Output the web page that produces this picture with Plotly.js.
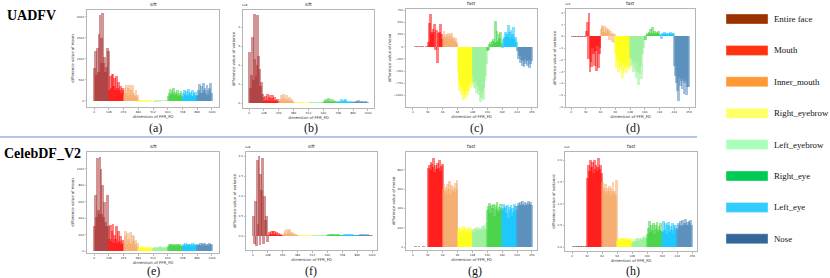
<!DOCTYPE html>
<html><head><meta charset="utf-8">
<script src="https://cdn.plot.ly/plotly-3.0.1.min.js"></script>
<style>html,body{margin:0;padding:0;background:#fff;}#chart{width:830px;height:278px;}</style>
</head><body><div id="chart"></div>
<script>
// ---------- data ----------
const regions = ['Entire face','Mouth','Inner_mouth','Right_eyebrow','Left_eyebrow','Right_eye','Left_eye','Nose'];
const siftTicks = [0,128,256,384,512,640,768,896,1024];
const fastTicks = [0,32,64,96,128,160,192,224,256];
const datasets = ['UADFV','CelebDF_V2'];
const featureNames = ['sift','sift','fast','fast','sift','sift','fast','fast'];
const panelLetters = ['(a)','(b)','(c)','(d)','(e)','(f)','(g)','(h)'];
const meanTitle = 'difference value of mean';
const varTitle = 'difference value of variance';
const xTitle = 'dimension of FFR_FD';

// 16 values per region (8 regions)
const uadfvSiftMean = [
 780,1200,620,1250,700,1600,2050,900,1500,2100,900,1050,700,800,1250,1200,
 250,600,300,650,650,350,550,250,600,300,450,250,350,200,300,250,
 150,300,200,370,120,300,380,150,250,380,150,200,120,250,100,150,
 -20,20,-30,15,-35,10,-25,20,-30,10,-20,15,-10,20,-25,10,
 10,-15,20,-20,15,-10,25,-15,10,20,-10,15,5,20,10,15,
 120,200,280,150,250,180,300,140,220,160,260,120,200,150,240,130,
 100,180,260,150,230,120,280,160,210,130,250,110,190,140,220,120,
 150,250,400,200,350,180,420,250,300,200,380,150,250,300,420,200
];
const uadfvSiftVar = [ // x1e8
 2.7,0.8,1.5,3.5,1.2,4.7,2.3,1.4,2.0,4.65,2.5,1.8,0.9,1.1,0.5,0.3,
 0.1,0.35,0.15,0.5,0.1,0.3,0.45,0.1,0.25,0.4,0.1,0.3,0.15,0.1,0.2,0.1,
 0.1,0.2,0.45,0.1,0.3,0.5,0.2,0.1,0.45,0.2,0.1,0.3,0.1,0.2,0.1,0.05,
 0.02,0.03,0.02,0.04,0.02,0.03,0.01,0.03,0.02,0.04,0.02,0.03,0.02,0.02,0.03,0.02,
 0.02,0.03,0.04,0.02,0.03,0.05,0.02,0.03,0.04,0.02,0.03,0.02,0.04,0.03,0.02,0.03,
 0.05,0.1,0.2,0.08,0.15,0.25,0.1,0.06,0.2,0.12,0.08,0.15,0.1,0.06,0.12,0.05,
 0.05,0.12,0.08,0.2,0.1,0.06,0.15,0.22,0.08,0.1,0.05,0.12,0.08,0.05,0.1,0.06,
 0.04,0.08,0.12,0.06,0.1,0.15,0.05,0.08,0.12,0.06,0.1,0.08,0.05,0.1,0.06,0.04
];
const uadfvFastMean = [
 2,-3,4,-2,3,-4,2,-3,3,-2,4,-3,2,-2,3,-3,
 100,480,670,300,260,360,300,470,-70,340,-330,280,300,470,250,150,
 220,318,200,250,180,230,270,160,240,277,150,200,120,180,90,60,
 -500,-750,-900,-800,-1000,-850,-1090,-950,-1050,-800,-1000,-900,-750,-850,-700,-800,
 -600,-750,-850,-700,-950,-800,-1000,-900,-1130,-1050,-950,-1100,-850,-700,-600,-350,
 -100,-60,60,100,40,120,150,80,530,100,330,120,250,180,300,80,
 -30,150,200,300,250,200,450,300,150,350,200,250,400,150,200,100,
 -100,-250,-200,-330,-280,-400,-300,-420,-250,-350,-300,-400,-280,-430,-350,-300
];
const uadfvFastVar = [ // x1e6
 0.01,-0.01,0.02,-0.01,0.01,-0.02,0.01,-0.01,0.02,-0.01,0.01,-0.01,0.02,-0.01,0.01,-0.02,
 0.5,1.2,-1.9,2.0,-3.0,-2.2,-2.6,-1.0,-1.5,-2.5,-1.2,-2.9,-0.8,-2.7,-1.5,-1.0,
 0.6,1.0,0.8,0.4,0.9,0.3,0.7,0.5,0.6,-0.3,0.5,0.2,-0.5,0.3,-0.6,0.2,
 -1.5,-2.7,-2.0,-3.0,-2.2,-2.8,-2.5,-3.5,-2.3,-3.0,-2.7,-2.2,-3.1,-2.4,-2.6,-2.8,
 -1.8,-2.5,-2.0,-3.0,-2.3,-2.8,-3.5,-2.2,-3.0,-4.1,-3.2,-2.5,-3.6,-1.5,-1.0,-0.3,
 -0.3,0.1,0.3,0.2,0.4,0.3,0.6,0.2,0.8,0.3,0.5,0.2,0.4,0.3,0.5,0.2,
 0.1,0.2,-0.2,0.3,0.2,0.4,0.2,0.3,0.1,0.3,0.2,0.4,0.2,0.3,0.2,0.3,
 -2.5,-3.4,-4.0,-4.6,-5.5,-3.5,-4.2,-3.8,-4.5,-3.6,-4.9,-4.0,-3.8,-5.0,-4.3,-4.3
];
const celebSiftMean = [
 300,680,420,1130,500,450,1140,1000,450,800,420,600,350,300,680,300,
 150,320,120,250,330,100,200,150,300,100,250,120,180,90,140,100,
 100,180,240,80,220,150,100,230,90,200,120,180,80,140,60,100,
 30,50,40,60,35,50,45,30,55,40,35,50,30,45,40,35,
 35,45,30,55,40,50,35,45,60,40,50,35,45,55,40,50,
 60,80,70,90,60,85,70,75,90,60,80,70,85,65,75,60,
 65,85,70,95,60,80,90,70,85,65,95,70,80,60,85,70,
 70,90,75,100,65,95,80,70,100,75,90,65,85,95,70,80
];
const celebSiftVar = [ // x1e8
 0.5,-0.2,0.87,-0.25,1.9,0.3,2.0,-0.22,1.56,1.15,1.95,-0.2,1.0,0.4,0.5,-0.15,
 0.02,0.1,0.05,0.13,0.03,0.12,0.06,0.13,0.04,0.1,0.03,0.08,0.02,0.06,0.03,0.02,
 0.03,0.08,0.15,0.05,0.17,0.06,0.12,0.17,0.04,0.1,0.05,0.08,0.02,0.05,0.03,0.02,
 0.01,0.02,0.01,0.015,0.01,0.02,0.01,0.015,0.01,0.02,0.01,0.015,0.01,0.02,0.01,0.01,
 0.01,0.015,0.02,0.01,0.015,0.01,0.02,0.015,0.01,0.02,0.015,0.01,0.02,0.01,0.015,0.01,
 0.02,0.04,0.03,0.05,0.02,0.04,0.06,0.03,0.04,0.02,0.05,0.03,0.04,0.02,0.03,0.02,
 0.02,0.03,0.05,0.02,0.04,0.03,0.05,0.02,0.04,0.03,0.02,0.04,0.03,0.02,0.03,0.02,
 0.02,0.03,0.02,0.04,0.03,0.05,0.02,0.03,0.04,0.02,0.03,0.04,0.02,0.03,0.02,0.02
];
const celebFastMean = [
 5,4,6,5,4,5,6,4,5,5,4,6,5,4,5,5,
 820,850,800,880,860,830,920,780,850,810,870,820,900,790,840,860,
 600,650,580,620,560,650,600,680,550,640,590,620,570,660,600,690,
 180,200,160,210,150,190,220,170,200,160,190,210,150,180,200,160,
 170,190,160,200,180,210,170,190,200,180,220,190,230,200,250,180,
 380,420,460,350,430,400,450,320,440,390,470,360,410,380,450,400,
 380,450,400,420,350,440,300,410,380,430,320,400,360,450,420,380,
 420,460,440,470,430,480,450,420,470,440,460,430,480,450,470,440
];
const celebFastVar = [ // x1e6
 0.01,0.02,0.01,0.02,0.01,0.02,0.01,0.02,0.01,0.02,0.01,0.02,0.01,0.02,0.01,0.02,
 1.6,1.9,1.75,2.0,1.85,1.95,1.7,2.0,1.8,1.9,1.75,1.85,2.05,1.8,1.9,1.7,
 1.5,1.35,1.3,1.45,1.25,1.35,1.3,1.4,1.2,1.35,1.3,1.5,1.25,1.3,1.2,1.55,
 0.15,0.2,0.17,0.22,0.14,0.2,0.18,0.22,0.16,0.2,0.15,0.21,0.17,0.2,0.16,0.19,
 0.1,0.15,0.12,0.18,0.14,0.2,0.15,0.22,0.17,0.2,0.18,0.24,0.2,0.25,0.22,0.2,
 0.3,0.45,0.6,0.35,0.5,0.4,0.55,0.3,0.5,0.42,0.58,0.35,0.48,0.4,0.55,0.38,
 0.35,0.6,0.4,0.55,0.3,0.5,0.58,0.35,0.48,0.4,0.55,0.33,0.5,0.45,0.52,0.4,
 0.45,0.55,0.5,0.6,0.48,0.62,0.5,0.55,0.65,0.5,0.58,0.52,0.6,0.55,0.62,0.5
];

// ---------- styles / layout ----------
const barColors = ['#a52a2a','#ff0000','#f4a460','#ffff00','#90ee90','#32cd32','#00bfff','#4682b4'];
const legendColors = ['#9a3300','#ff3311','#ff9933','#ffff66','#aaffbb','#00cc55','#33ccff','#336699'];
const W = 830, H = 278;
const fx = p => p / W, fy = p => 1 - p / H;

const panels = [
 {data: uadfvSiftMean, dims:1024, ticks:siftTicks, yTitle:meanTitle, box:[87,10,219,107], xr:[-61,1085], yr:[-143,2166], yt:[0,500,1000,1500,2000], fmt:'d', exp:'', lx:155, ly:128},
 {data: uadfvSiftVar, dims:1024, ticks:siftTicks, yTitle:varTitle, box:[243,10,374,108], xr:[-52,1076], yr:[-0.26,4.9], yt:[0,1,2,3,4], fmt:'d', exp:'1e8', lx:311, ly:128},
 {data: uadfvFastMean, dims:256, ticks:fastTicks, yTitle:meanTitle, box:[406,9,537,107], xr:[-15,267], yr:[-1238,771], yt:[-1000,-750,-500,-250,0,250,500,750], fmt:'d', exp:'', lx:476, ly:128},
 {data: uadfvFastVar, dims:256, ticks:fastTicks, yTitle:varTitle, box:[566,9,695,107], xr:[-11,269], yr:[-6.0,2.33], yt:[-6,-5,-4,-3,-2,-1,0,1,2], fmt:'d', exp:'1e6', lx:633, ly:128},
 {data: celebSiftMean, dims:1024, ticks:siftTicks, yTitle:meanTitle, box:[87,152,219,253], xr:[-61,1085], yr:[-24,1206], yt:[0,200,400,600,800,1000], fmt:'d', exp:'', lx:153, ly:271},
 {data: celebSiftVar, dims:1024, ticks:siftTicks, yTitle:varTitle, box:[246,152,377,250], xr:[-60,1067], yr:[-0.35,2.1], yt:[0,0.5,1,1.5,2], fmt:'.1f', exp:'1e8', lx:311, ly:271},
 {data: celebFastMean, dims:256, ticks:fastTicks, yTitle:meanTitle, box:[406,152,537,250], xr:[-15,267], yr:[-31,984], yt:[0,200,400,600,800], fmt:'d', exp:'', lx:475, ly:271},
 {data: celebFastVar, dims:256, ticks:fastTicks, yTitle:varTitle, box:[565,152,697,251], xr:[-15,266], yr:[-0.09,2.19], yt:[0,0.5,1,1.5,2], fmt:'.1f', exp:'1e6', lx:633, ly:271}
];

const tickFont = {family:'DejaVu Sans', size:2.8, color:'#333'};
const axTitleFont = {family:'DejaVu Sans', size:3.9, color:'#333'};
const traces = [];
const layout = {
  width: W, height: H, margin:{l:0,r:0,t:0,b:0},
  paper_bgcolor:'#fff', plot_bgcolor:'#fff', showlegend:false,
  barmode:'overlay', bargap:0, annotations:[], shapes:[]
};

const perSeg = 16;
panels.forEach((p, k) => {
  const n = k + 1;
  const xa = n === 1 ? 'x' : 'x' + n, ya = n === 1 ? 'y' : 'y' + n;
  const step = p.dims / (perSeg * regions.length);
  regions.forEach((r, s) => {
    const xs = [], ys = [];
    for (let i = 0; i < perSeg; i++) {
      xs.push((s * perSeg + i + 0.5) * step);
      ys.push(p.data[s * perSeg + i]);
    }
    traces.push({type:'bar', name:r, x:xs, y:ys, xaxis:xa, yaxis:ya,
      width: step * 3, marker:{color:barColors[s], opacity:0.5, line:{width:0}}, hoverinfo:'skip'});
  });
  const [x0,y0,x1,y1] = p.box;
  const common = {showline:true, mirror:true, linecolor:'#b5b5b5', linewidth:1, ticks:'outside', ticklen:1.5,
    tickwidth:0.5, tickcolor:'#777', tickfont:tickFont, showgrid:false, zeroline:false, fixedrange:true};
  layout[n === 1 ? 'xaxis' : 'xaxis' + n] = Object.assign({}, common, {
    domain:[fx(x0), fx(x1)], range:p.xr, anchor:ya, tickmode:'array', tickvals:p.ticks,
    title:{text:xTitle, font:axTitleFont, standoff:1.5}});
  layout[n === 1 ? 'yaxis' : 'yaxis' + n] = Object.assign({}, common, {
    domain:[fy(y1), fy(y0)], range:p.yr, anchor:xa, tickmode:'array', tickvals:p.yt, tickformat:p.fmt,
    title:{text:p.yTitle, font:axTitleFont, standoff:2}});
  // subplot title
  layout.annotations.push({xref:'paper', yref:'paper', x:fx((x0+x1)/2), y:fy(y0-1), xanchor:'center', yanchor:'bottom',
    text:featureNames[k], showarrow:false, font:{family:'DejaVu Sans', size:4.4, color:'#222'}});
  if (p.exp) layout.annotations.push({xref:'paper', yref:'paper', x:fx(x0-3), y:fy(y0-1), xanchor:'left', yanchor:'bottom',
    text:p.exp, showarrow:false, font:{family:'DejaVu Sans', size:2.8, color:'#333'}});
  layout.annotations.push({xref:'paper', yref:'paper', x:fx(p.lx), y:fy(p.ly), xanchor:'center', yanchor:'middle',
    text:panelLetters[k], showarrow:false, font:{family:'Liberation Serif', size:12, color:'#111'}});
});

// dataset labels
layout.annotations.push({xref:'paper', yref:'paper', x:fx(5), y:fy(16), xanchor:'left', yanchor:'middle',
  text:'<b>' + datasets[0] + '</b>', showarrow:false, font:{family:'Liberation Serif', size:14, color:'#000'}});
layout.annotations.push({xref:'paper', yref:'paper', x:fx(2), y:fy(153), xanchor:'left', yanchor:'middle',
  text:'<b>' + datasets[1] + '</b>', showarrow:false, font:{family:'Liberation Serif', size:14, color:'#000'}});

// separator line
layout.shapes.push({type:'line', xref:'paper', yref:'paper', x0:0, x1:fx(697), y0:fy(137), y1:fy(137),
  line:{color:'#6a8cd6', width:1.2}});

// legend (drawn)
regions.forEach((r, i) => {
  const cy = 19 + i * 31.4;
  layout.shapes.push({type:'rect', xref:'paper', yref:'paper', x0:fx(726), x1:fx(768), y0:fy(cy+5), y1:fy(cy-5),
    fillcolor:legendColors[i], line:{width:0.6, color:'rgba(255,255,255,0.6)'}});
  layout.annotations.push({xref:'paper', yref:'paper', x:fx(772), y:fy(cy), xanchor:'left', yanchor:'middle',
    text:r, showarrow:false, font:{family:'Liberation Serif', size:8.8, color:'#111'}});
});

Plotly.newPlot('chart', traces, layout, {staticPlot:true, displayModeBar:false});
</script></body></html>
